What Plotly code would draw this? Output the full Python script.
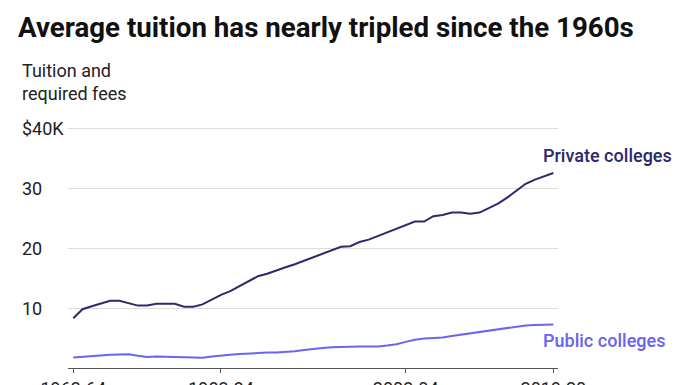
import plotly.graph_objects as go

# Academic years (category axis)
years = ["1963-64", "1964-65", "1966-67", "1968-69", "1970-71", "1971-72", "1972-73",
         "1973-74", "1974-75", "1975-76", "1976-77", "1977-78", "1978-79", "1979-80",
         "1980-81", "1981-82"]
years += [f"{y}-{str(y + 1)[-2:]}" for y in range(1983, 2020)]

# Average tuition and required fees, thousands of constant dollars
private = [8.3, 9.8, 10.3, 10.8, 11.2, 11.2, 10.8, 10.4, 10.4, 10.7, 10.7, 10.7, 10.2,
           10.2, 10.6, 11.4, 12.2, 12.8, 13.6, 14.4, 15.3, 15.7, 16.3, 16.8, 17.3, 17.9,
           18.5, 19.0, 19.7, 20.2, 20.3, 21.0, 21.4, 22.0, 22.7, 23.2, 23.9, 24.4, 24.4,
           25.3, 25.5, 25.9, 25.9, 25.7, 25.9, 26.6, 27.4, 28.4, 29.6, 30.7, 31.4, 32.0, 32.5]
public = [1.77, 1.9, 2.03, 2.12, 2.2, 2.26, 2.28, 2.03, 1.83, 1.93, 1.88, 1.82, 1.75,
          1.67, 1.72, 1.9, 2.1, 2.22, 2.33, 2.43, 2.53, 2.57, 2.59, 2.64, 2.8, 3.0, 3.2,
          3.32, 3.45, 3.52, 3.57, 3.6, 3.6, 3.6, 3.75, 3.97, 4.35, 4.7, 4.9, 4.97, 5.1,
          5.35, 5.57, 5.78, 6.1, 6.3, 6.5, 6.75, 7.0, 7.1, 7.17, 7.22, 7.27]

x_ticks = ["1963-64", "1983-84", "2003-04", "2019-20"]
y_ticks = [10, 20, 30, 40]
y_tick_text = ["10", "20", "30", "$40K"]

PRIV = "#2c2a6c"
PUB = "#6b63f2"
FONT = "Roboto, Arial, sans-serif"

fig = go.Figure()
fig.add_trace(go.Scatter(x=years, y=private, mode="lines",
                         line=dict(color=PRIV, width=2), hoverinfo="skip"))
fig.add_trace(go.Scatter(x=years, y=public, mode="lines",
                         line=dict(color=PUB, width=2), hoverinfo="skip"))

W, H = 696, 385
L, R, T, B = 68, 138, 125.3, 16.7
PW, PH = W - L - R, H - T - B
fig.update_layout(
    width=W, height=H,
    margin=dict(l=L, r=R, t=T, b=B, autoexpand=False),
    paper_bgcolor="white", plot_bgcolor="white",
    showlegend=False,
    font=dict(family=FONT, color="#222", size=17),
    title=dict(text="<b>Average tuition has nearly tripled since the 1960s</b>",
               x=18 / W, xanchor="left", xref="container", y=1 - 27 / H,
               yanchor="middle", yref="container", pad=dict(l=0, r=0, t=0, b=0),
               font=dict(family=FONT, size=27.7, color="#111")),
    xaxis=dict(type="category", range=[-0.57, 52.5], showgrid=False, automargin=False,
               tickmode="array", tickvals=x_ticks, ticktext=x_ticks,
               ticks="outside", ticklen=4, tickcolor="#555", tickwidth=1,
               showline=True, linecolor="#555", linewidth=1,
               tickfont=dict(size=18, color="#222"), fixedrange=True),
    yaxis=dict(range=[0, 40.5], tickmode="array", tickvals=y_ticks, automargin=False,
               showticklabels=False, showgrid=True, gridcolor="#dcdcdc",
               gridwidth=1, zeroline=False, showline=False, fixedrange=True),
)

for v, t in zip(y_ticks, y_tick_text):
    fig.add_annotation(x=(20 - L) / PW, xref="paper", xanchor="left",
                       y=v, yref="y", yanchor="middle", text=t, showarrow=False,
                       font=dict(size=18, color="#222"))

fig.add_annotation(x=(20 - L) / PW, xref="paper", xanchor="left",
                   y=1 + (T - 58) / PH, yref="paper", yanchor="top",
                   text="Tuition and<br>required fees", align="left", showarrow=False,
                   font=dict(size=18, color="#222"))

fig.add_annotation(x=years[-1], y=private[-1], xref="x", yref="y", xanchor="left",
                   yanchor="middle", xshift=-12, yshift=18, text="Private colleges",
                   showarrow=False, font=dict(size=18, color=PRIV, family="Roboto Medium, Roboto, sans-serif"))
fig.add_annotation(x=years[-1], y=public[-1], xref="x", yref="y", xanchor="left",
                   yanchor="middle", xshift=-12, yshift=-16, text="Public colleges",
                   showarrow=False, font=dict(size=18, color=PUB, family="Roboto Medium, Roboto, sans-serif"))

fig.write_html("out.html", config={"displayModeBar": False},
               post_script="document.body.style.margin='0';document.body.style.overflow='hidden';")
